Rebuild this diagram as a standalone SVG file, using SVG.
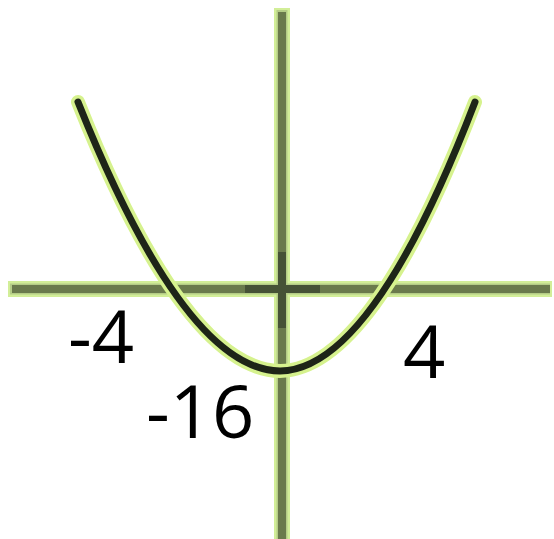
<svg xmlns="http://www.w3.org/2000/svg" width="554" height="539" viewBox="0 0 554 539">
<style>
.halo{stroke:#d2ee98;stroke-width:16;fill:none;stroke-linecap:butt}
.mid{stroke:#b4cc86;stroke-width:11;fill:none}
.core{stroke:#6a7a4c;stroke-width:8;fill:none}
.dark{stroke:#465236;stroke-width:8;fill:none}
.chalo{stroke:#d6f28e;stroke-width:14;fill:none;stroke-linecap:round}
.ccore{stroke:#1e2518;stroke-width:7;fill:none;stroke-linecap:round}
text{font-family:"Open Sans","Liberation Sans",sans-serif;font-size:74px;fill:#000}
</style>
<rect width="554" height="539" fill="#fff"/>
<g id="axes">
<line class="halo" x1="8" y1="289" x2="552" y2="289"/>
<line class="halo" x1="282" y1="8" x2="282" y2="539"/>
<line class="mid" x1="10" y1="289" x2="550" y2="289"/>
<line class="mid" x1="282" y1="10" x2="282" y2="539"/>
<line class="core" x1="12" y1="289" x2="550" y2="289"/>
<line class="core" x1="282" y1="12" x2="282" y2="539"/>
<line class="dark" x1="245" y1="289" x2="320" y2="289"/>
<line class="dark" x1="282" y1="252" x2="282" y2="328"/>
</g>
<g id="curve">
<path class="chalo" d="M78,102 Q185,370 280,371 Q372,370 475,102"/>
<path class="ccore" d="M78,102 Q185,370 280,371 Q372,370 475,102"/>
</g>
<g id="labels">
<text x="68" y="363">-4</text>
<text x="146" y="438">-16</text>
<text x="403" y="378">4</text>
</g>
</svg>
